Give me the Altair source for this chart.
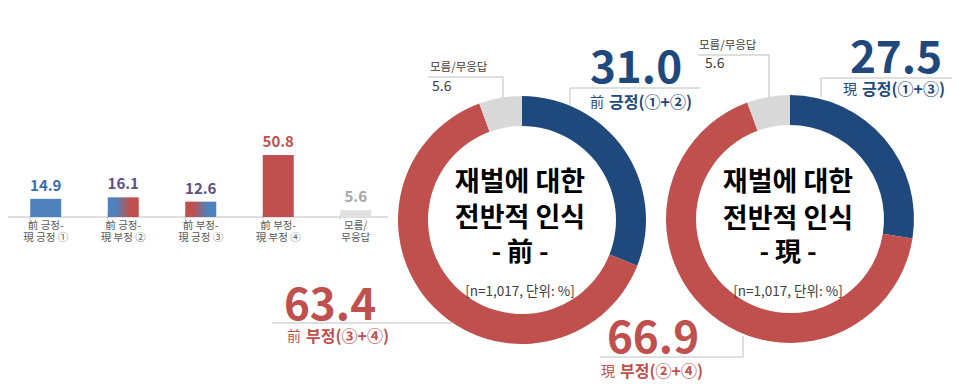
import altair as alt
import pandas as pd

# ---------------- data ----------------
bar_keys = ["①", "②", "③", "④", "⑤"]
bar_line1 = ["前 긍정-", "前 긍정-", "前 부정-", "前 부정-", "모름/"]
bar_line2 = ["現 긍정 ①", "現 부정 ②", "現 긍정 ③", "現 부정 ④", "무응답"]
bar_values = [14.9, 16.1, 12.6, 50.8, 5.6]

donut_segments = ["긍정", "부정", "모름/무응답"]
donut_order = [1, 2, 3]
before_values = [31.0, 63.4, 5.6]   # 前
after_values = [27.5, 66.9, 5.6]    # 現

# ---------------- styles ----------------
FONT = "Noto Sans CJK KR"
NAVY = "#1f497d"
RED = "#c0504d"
BLUE = "#4f81bd"
GRAY = "#d9d9d9"
LINE = "#bfbfbf"
DARK = "#404040"

bars = pd.DataFrame({"cat": bar_keys, "l1": bar_line1, "l2": bar_line2, "value": bar_values})
before = pd.DataFrame({"seg": donut_segments, "ord": donut_order, "value": before_values})
after = pd.DataFrame({"seg": donut_segments, "ord": donut_order, "value": after_values})
one = pd.DataFrame({"a": [0]})

xscale = alt.Scale(domain=bar_keys, range=[-1, 386.5], paddingInner=0.6, paddingOuter=0.3)
yscale = alt.Scale(domain=[0, 100], range=[209, 87])
X = alt.X("cat:N", sort=bar_keys, scale=xscale, axis=None)
Y = alt.Y("value:Q", scale=yscale, axis=None)

def grad(c1, c2):
    return alt.Gradient(
        gradient="linear",
        stops=[alt.GradientStop(color=c1, offset=0), alt.GradientStop(color=c1, offset=0.25),
               alt.GradientStop(color=c2, offset=0.7), alt.GradientStop(color=c2, offset=1)],
        x1=0, x2=1, y1=0, y2=0)

solid_bars = alt.Chart(bars).transform_filter(
    alt.FieldOneOfPredicate(field="cat", oneOf=["①", "④", "⑤"])
).mark_bar().encode(
    x=X, y=Y,
    color=alt.Color("cat:N", scale=alt.Scale(domain=["①", "④", "⑤"], range=[BLUE, RED, "#e0e0e0"]), legend=None),
)
bar2 = alt.Chart(bars).transform_filter(alt.datum.cat == "②").mark_bar(color=grad(BLUE, RED)).encode(x=X, y=Y)
bar3 = alt.Chart(bars).transform_filter(alt.datum.cat == "③").mark_bar(color=grad(RED, BLUE)).encode(x=X, y=Y)

bar_text = alt.Chart(bars).mark_text(font=FONT, fontSize=15, fontWeight="bold", baseline="alphabetic", dy=-8).encode(
    x=X, y=Y, text=alt.Text("value:Q", format=".1f"),
    color=alt.Color("cat:N", scale=alt.Scale(domain=bar_keys, range=["#3b6db3", "#5b4f8a", "#5b4f8a", RED, "#a6a6a6"]), legend=None),
)
baseline = alt.Chart(one).mark_rule(color=LINE, strokeWidth=1).encode(
    x=alt.value(-3), x2=alt.value(380), y=alt.Y(datum=0, type="quantitative", scale=yscale, axis=None))
ticks = alt.Chart(bars).mark_rule(color=LINE, strokeWidth=1).encode(
    x=alt.X("cat:N", sort=bar_keys, scale=xscale, axis=None, bandPosition=0), y=alt.value(207), y2=alt.value(211))
cat1 = alt.Chart(bars).mark_text(font=FONT, fontSize=10.5, color="#595959").encode(x=X, y=alt.value(218), text="l1:N")
cat2 = alt.Chart(bars).mark_text(font=FONT, fontSize=10.5, color="#595959").encode(x=X, y=alt.value(229.5), text="l2:N")

# ---------------- donuts ----------------
def donut(df, cx, cy):
    return alt.Chart(df).mark_arc(radius=124, radius2=94).encode(
        x=alt.value(cx), y=alt.value(cy),
        theta=alt.Theta("value:Q", stack=True, scale=alt.Scale(domain=[0, 100])),
        order=alt.Order("ord:Q"),
        color=alt.Color("seg:N", scale=alt.Scale(domain=donut_segments, range=[NAVY, RED, GRAY]), legend=None),
    )

def txt(text, x, y, size, color, weight="normal", align="center", baseline="middle"):
    return alt.Chart(one).mark_text(text=text, font=FONT, fontSize=size, color=color, fontWeight=weight,
                                    align=align, baseline=baseline).encode(x=alt.value(x), y=alt.value(y))

def num(df, seg, x, y, size, color, weight="bold", align="center", baseline="alphabetic"):
    return alt.Chart(df).transform_filter(alt.datum.seg == seg).mark_text(
        font=FONT, fontSize=size, color=color, fontWeight=weight, align=align, baseline=baseline
    ).encode(x=alt.value(x), y=alt.value(y), text=alt.Text("value:Q", format=".1f"))

def seg(x1, y1, x2, y2):
    return alt.Chart(one).mark_rule(color=LINE, strokeWidth=1).encode(
        x=alt.value(x1), y=alt.value(y1), x2=alt.value(x2), y2=alt.value(y2))

layers = [
    baseline, ticks, solid_bars, bar2, bar3, bar_text, cat1, cat2,
    donut(before, 514, 212), donut(after, 782, 211),
    # leader lines
    seg(420, 69, 495, 69), seg(495, 69, 495, 90),
    seg(562, 80, 692, 80), seg(562, 80, 562, 98),
    seg(690, 47, 761, 47), seg(761, 47, 761, 89),
    seg(813, 70, 944, 70), seg(813, 70, 813, 89),
    seg(264, 315, 446, 315),
    seg(592, 349, 735, 349), seg(735, 328, 735, 349),
    # centre titles
    txt("재벌에 대한", 512, 175, 27, "#000000", "bold"),
    txt("전반적 인식", 512, 211, 27, "#000000", "bold"),
    txt("- 前 -", 512, 245, 26, "#000000", "bold"),
    txt("[n=1,017, 단위: %]", 512, 284, 13.5, DARK),
    txt("재벌에 대한", 780, 175, 27, "#000000", "bold"),
    txt("전반적 인식", 780, 212, 27, "#000000", "bold"),
    txt("- 現 -", 780, 245, 26, "#000000", "bold"),
    txt("[n=1,017, 단위: %]", 780, 284, 13.5, DARK),
    # don't know labels
    txt("모름/무응답", 422, 59.5, 11.5, DARK, align="left"),
    num(before, "모름/무응답", 424, 79, 14, DARK, weight="normal", align="left", baseline="middle"),
    txt("모름/무응답", 691, 37.5, 11.5, DARK, align="left"),
    num(after, "모름/무응답", 697, 55.5, 14, DARK, weight="normal", align="left", baseline="middle"),
    # big numbers
    num(before, "긍정", 628, 75, 44, NAVY),
    num(after, "긍정", 888, 65, 44, NAVY),
    num(before, "부정", 322, 312, 44, RED),
    num(after, "부정", 645, 345, 44, RED),
    # sub labels
    txt("前", 596, 95, 14, NAVY, align="right"), txt("긍정(①+②)", 601, 95, 16, NAVY, "bold", align="left"),
    txt("現", 849, 82, 14, NAVY, align="right"), txt("긍정(①+③)", 854, 82, 16, NAVY, "bold", align="left"),
    txt("前", 293, 329, 14, RED, align="right"), txt("부정(③+④)", 298, 329, 16, RED, "bold", align="left"),
    txt("現", 607, 364, 14, RED, align="right"), txt("부정(②+④)", 612, 364, 16, RED, "bold", align="left"),
]

chart = alt.layer(*layers).resolve_scale(color="independent").properties(
    width=944, height=373, padding=0, autosize="none", background="white"
).configure_view(strokeWidth=0)

chart.save("out.html", embed_options={"renderer": "svg", "actions": False})
